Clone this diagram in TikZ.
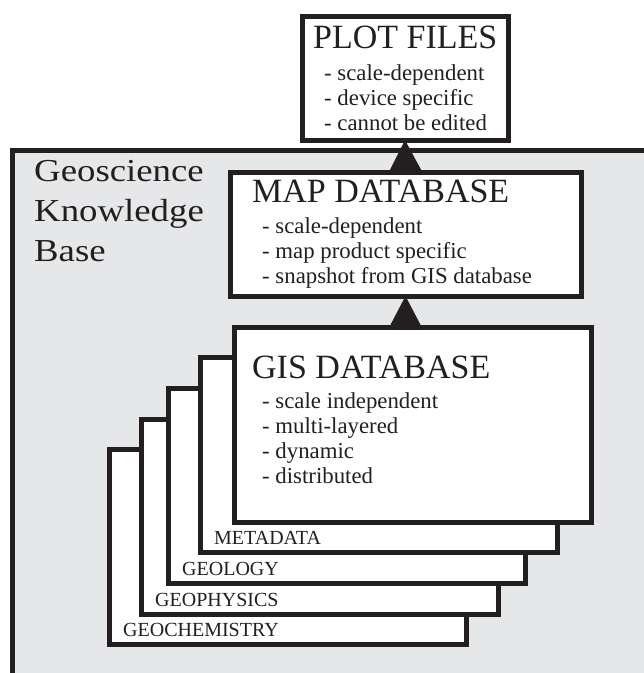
\documentclass[tikz,border=0pt]{standalone}
\usepackage{fontspec}
\setmainfont{Liberation Serif}
\newfontfamily\kbfont[FakeStretch=1.15]{Liberation Serif}
\usetikzlibrary{arrows.meta}

\definecolor{ink}{HTML}{231F20}
\definecolor{kbgray}{HTML}{E6E7E8}

\tikzset{
	box/.style = {draw=ink, fill=white, line width=5pt, inner sep=0pt, outer sep=0pt, anchor=north west},
	layer/.style = {box, minimum width=357pt, minimum height=195pt},
	title/.style = {anchor=base west, inner sep=0pt, text=ink, font=\fontsize{34}{37}\selectfont},
	item/.style = {anchor=base west, inner sep=0pt, text=ink, font=\fontsize{22.8}{25}\selectfont},
	kbtext/.style = {anchor=base west, inner sep=0pt, text=ink, font=\kbfont\fontsize{32}{35}\selectfont},
	layername/.style = {anchor=base west, inner sep=0pt, text=ink, font=\fontsize{20}{22}\selectfont},
	flow/.style = {ink, line width=1pt, -{Triangle[length=31pt, width=32pt]}},
}

\begin{document}
\begin{tikzpicture}[x=1pt, y=-1pt]
				\useasboundingbox (0,0) rectangle (644,673);

				% knowledge base
				\begin{scope}
					\fill[kbgray] (12,150) rectangle (644,673);
					\draw[ink, line width=5pt] (12,676) -- (12,150) -- (647,150);
					\node[kbtext] (kb1) at (34,181) {Geoscience};
					\node[kbtext] (kb2) at (34,221) {Knowledge};
					\node[kbtext] (kb3) at (34,261) {Base};
				\end{scope}

				% stacked data layers
				\foreach \name/\lx/\ty/\lbl in {geochem/109/449/GEOCHEMISTRY, geophys/141/419/GEOPHYSICS, geology/168/388/GEOLOGY, meta/200/357/METADATA}
				{
					\node[layer] (\name) at (\lx,\ty) {};
					\node[layername] (\name-lbl) at ([xshift=14pt, yshift=8pt]\name.south west) {\lbl};
				}

				% GIS database
				\node[layer] (gis) at (234,327) {};
				\node[title] (gis-title) at (252,378) {GIS DATABASE};
				\foreach \t [count=\i] in {scale independent, multi-layered, dynamic, distributed}
					\node[item] (gis-\i) at (262,383+25*\i) {- \t};

				% map database
				\node[box, minimum width=351pt, minimum height=124pt] (map) at (230,172) {};
				\node[title] (map-title) at (252,202) {MAP DATABASE};
				\foreach \t [count=\i] in {scale-dependent, map product specific, snapshot from GIS database}
					\node[item] (map-\i) at (262,208+25*\i) {- \t};

				% plot files
				\node[box, minimum width=206pt, minimum height=124pt] (plot) at (302,16) {};
				\node[title] (plot-title) at (313,48) {PLOT FILES};
				\foreach \t [count=\i] in {scale-dependent, device specific, cannot be edited}
					\node[item] (plot-\i) at (324,55+25*\i) {- \t};

				\draw[flow] (map.south |- gis.north) -- (map.south);
				\draw[flow] (map.north) -- (plot.south);
			\end{tikzpicture}
\end{document}
